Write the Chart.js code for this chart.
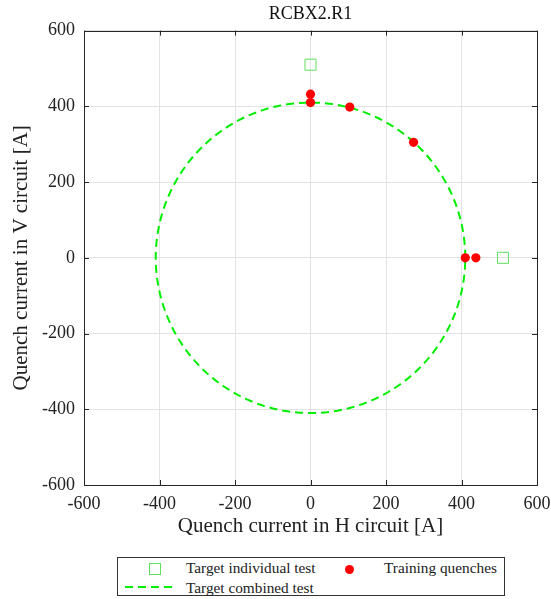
<!DOCTYPE html>
<html>
<head>
<meta charset="utf-8">
<script src="https://cdn.jsdelivr.net/npm/chart.js@4.4.1/dist/chart.umd.min.js"></script>
<style>
  body { margin: 0; background: #fff; font-family: "Liberation Serif", "DejaVu Serif", serif; }
  #wrap { position: relative; width: 551px; height: 599px; }
  #legend {
    position: absolute; left: 117px; top: 557px; width: 388px; height: 39px;
    border: 1px solid #333; box-sizing: border-box; font-size: 15.3px; color: #222;
  }
  .item { position: absolute; white-space: nowrap; line-height: 18px; }
  .sym { position: absolute; }
</style>
</head>
<body>
<div id="wrap">
  <canvas id="quenchChart" width="551" height="550"></canvas>
  <div id="legend">
    <span class="sym" style="left:31px;top:5px;width:10px;height:10px;border:1px solid #5fe05f;"></span>
    <span class="item" style="left:68px;top:1px;">Target individual test</span>
    <span class="sym" style="left:227px;top:7px;width:9px;height:9px;border-radius:50%;background:#ff0000;"></span>
    <span class="item" style="left:266px;top:1px;">Training quenches</span>
    <svg class="sym" style="left:7px;top:26px;" width="50" height="6"><line x1="0" y1="3" x2="50" y2="3" stroke="#00ee00" stroke-width="2" stroke-dasharray="8 5"/></svg>
    <span class="item" style="left:68px;top:21px;">Target combined test</span>
  </div>
</div>
<script>
const ticksH = [-600, -400, -200, 0, 200, 400, 600];
const ticksV = [-600, -400, -200, 0, 200, 400, 600];

// target currents for single-circuit tests
const targetH = [0, 510];
const targetV = [510, 0];

// training quenches
const quenchH = [0, 0, 104, 273, 410, 438];
const quenchV = [432, 410, 398, 305, 0, 0];

// target combined test: circle of this radius [A]
const combinedRadius = 410;

const circlePts = [];
for (let a = 0; a <= 360; a += 2) {
  const r = a * Math.PI / 180;
  circlePts.push({ x: combinedRadius * Math.cos(r), y: combinedRadius * Math.sin(r) });
}

const boxAndTicks = {
  id: 'boxAndTicks',
  afterDraw(chart) {
    const { ctx, chartArea: a, scales } = chart;
    ctx.save();
    ctx.strokeStyle = '#262626';
    ctx.lineWidth = 1;
    ctx.beginPath();
    ticksH.forEach(v => {
      const px = Math.round(scales.x.getPixelForValue(v)) + 0.5;
      ctx.moveTo(px, a.bottom); ctx.lineTo(px, a.bottom - 5);
      ctx.moveTo(px, a.top); ctx.lineTo(px, a.top + 5);
    });
    ticksV.forEach(v => {
      const py = Math.round(scales.y.getPixelForValue(v)) + 0.5;
      ctx.moveTo(a.left, py); ctx.lineTo(a.left + 5, py);
      ctx.moveTo(a.right, py); ctx.lineTo(a.right - 5, py);
    });
    ctx.stroke();
    ctx.strokeRect(Math.round(a.left) + 0.5, Math.round(a.top) + 0.5,
      Math.round(a.right - a.left), Math.round(a.bottom - a.top));
    ctx.restore();
  }
};

Chart.defaults.font.family = 'Liberation Serif';
const font = { family: 'Liberation Serif' };

new Chart(document.getElementById('quenchChart'), {
  type: 'scatter',
  data: {
    datasets: [
      {
        label: 'Target combined test',
        data: circlePts,
        showLine: true,
        borderColor: '#00ee00',
        borderWidth: 2,
        borderDash: [8, 5],
        pointRadius: 0,
        tension: 0,
        order: 3
      },
      {
        label: 'Target individual test',
        data: targetH.map((x, i) => ({ x, y: targetV[i] })),
        pointStyle: 'rect',
        pointRadius: 7.8,
        borderColor: '#5fe05f',
        backgroundColor: 'rgba(0,0,0,0)',
        borderWidth: 1,
        order: 2
      },
      {
        label: 'Training quenches',
        data: quenchH.map((x, i) => ({ x, y: quenchV[i] })),
        pointRadius: 4.6,
        backgroundColor: '#ff0000',
        borderColor: '#ff0000',
        borderWidth: 0,
        order: 1
      }
    ]
  },
  options: {
    responsive: false,
    animation: false,
    layout: { padding: { top: 0, right: 0, bottom: 0, left: 0 } },
    plugins: {
      legend: { display: false },
      tooltip: { enabled: false },
      title: {
        display: true,
        fullSize: false,
        text: 'RCBX2.R1',
        color: '#111',
        font: { ...font, size: 18, weight: 'normal' },
        padding: { top: 3, bottom: 6 }
      }
    },
    scales: {
      x: {
        type: 'linear',
        min: -600, max: 600,
        afterBuildTicks: s => { s.ticks = ticksH.map(v => ({ value: v })); },
        afterFit: s => { s.height = 65; s.paddingRight = 14; s.paddingLeft = 0; },
        grid: { color: '#e3e3e3', drawTicks: false },
        border: { display: false },
        ticks: { color: '#222', padding: 8, font: { ...font, size: 18 } },
        title: {
          display: true,
          text: 'Quench current in H circuit [A]',
          color: '#222',
          font: { ...font, size: 21 },
          padding: { top: 0, bottom: 11 }
        }
      },
      y: {
        type: 'linear',
        min: -600, max: 600,
        afterBuildTicks: s => { s.ticks = ticksV.map(v => ({ value: v })); },
        afterFit: s => { s.width = 84; s.paddingTop = 0; s.paddingBottom = 0; },
        grid: { color: '#e3e3e3', drawTicks: false },
        border: { display: false },
        ticks: { color: '#222', padding: 9, font: { ...font, size: 18 } },
        title: {
          display: true,
          text: 'Quench current in V circuit [A]',
          color: '#222',
          font: { ...font, size: 21 },
          padding: { top: 9, bottom: 0 }
        }
      }
    }
  },
  plugins: [boxAndTicks]
});
</script>
</body>
</html>
